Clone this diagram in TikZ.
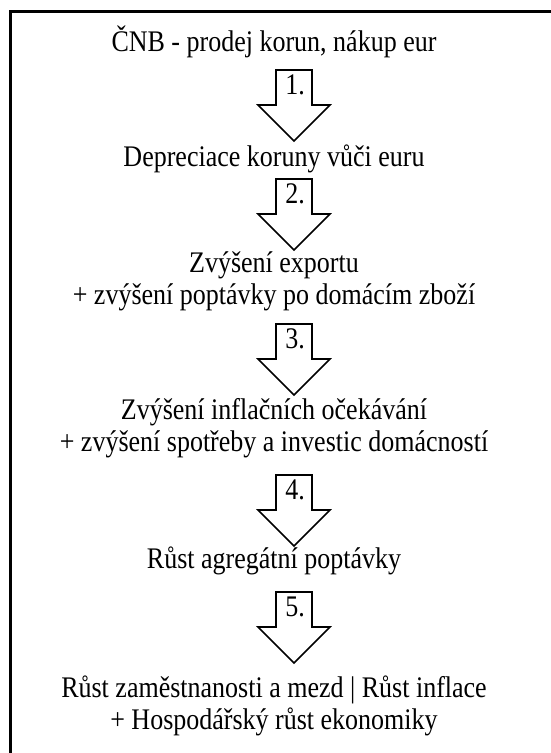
\documentclass[tikz,border=0pt]{standalone}
\usepackage{fontspec}
\setmainfont{Liberation Serif}
\newcommand{\tallstack}[1]{\scalebox{1}[1.15]{\begin{tabular}{@{}c@{}}#1\end{tabular}}}
\tikzset{
  steptext/.style={align=center, inner sep=0pt, font=\fontsize{26}{28}\selectfont},
  steplabel/.style={inner sep=0pt, font=\fontsize{26}{28}\selectfont},
  arrowline/.style={line width=1.6pt, line join=miter},
  blockarrow/.pic={
    \draw[arrowline] (-18,0) -- (18,0) -- (18,35) -- (36,35) -- (0,71)
      -- (-36,35) -- (-18,35) -- cycle;
    \node[steplabel] at (1,18) {\tallstack{#1}};
  }
}
\begin{document}
\begin{tikzpicture}[x=1pt, y=-1pt]
    \useasboundingbox (0,0) rectangle (551,753);
    \clip (0,0) rectangle (551,753);

    % frame
    \draw[line width=3pt] (10,11.5) rectangle (580,790);

    % steps
    \node[steptext] (cnb) at (274,43) {\tallstack{ČNB - prodej korun, nákup eur}};
    \node[steptext] (depr) at (274,160) {\tallstack{Depreciace koruny vůči euru}};
    \node[steptext] (export) at (274,282) {\tallstack{Zvýšení exportu\\+ zvýšení poptávky po domácím zboží}};
    \node[steptext] (infl) at (274,429) {\tallstack{Zvýšení inflačních očekávání\\+ zvýšení spotřeby a investic domácností}};
    \node[steptext] (agreg) at (274,562) {\tallstack{Růst agregátní poptávky}};
    \node[steptext] (growth) at (274,707) {\tallstack{Růst zaměstnanosti a mezd | Růst inflace\\+ Hospodářský růst ekonomiky}};

    % arrows
    \pic at (294,70) {blockarrow=1.};
    \pic at (294,179) {blockarrow=2.};
    \pic at (294,324) {blockarrow=3.};
    \pic at (294,475) {blockarrow=4.};
    \pic at (294,592) {blockarrow=5.};
\end{tikzpicture}
\end{document}
